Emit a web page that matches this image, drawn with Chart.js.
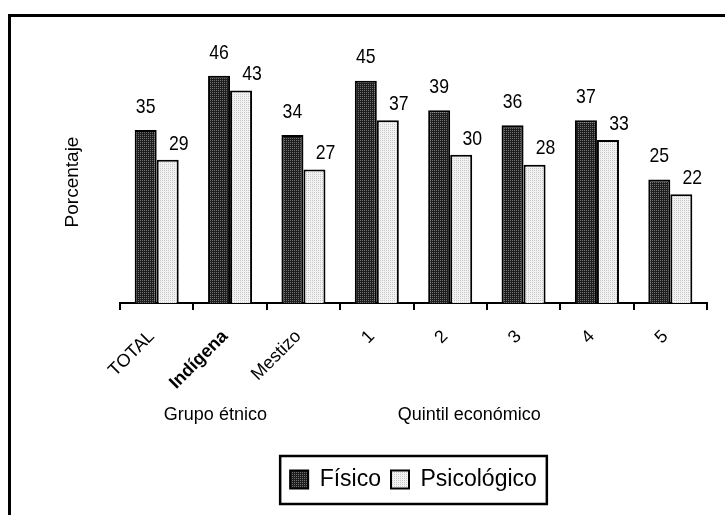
<!DOCTYPE html>
<html lang="es">
  <head>
    <meta charset="UTF-8" />
    <title>Porcentaje - Físico / Psicológico</title>
    <script src="https://cdn.jsdelivr.net/npm/chart.js"></script>
    <style>
      html, body { margin: 0; padding: 0; background: #fff; overflow: hidden; }
      .wrap { position: relative; width: 725px; height: 515px; }
      .frame {
        position: absolute; left: 8px; top: 14px; width: 800px; height: 600px;
        border: 3px solid #000; box-sizing: border-box;
      }
      canvas { position: absolute; left: 0; top: 0; }
    </style>
  </head>
  <body>
    <div class="wrap">
      <div class="frame"></div>
      <canvas id="chart" width="725" height="515"></canvas>
    </div>

    <script>
      // Datos
      const categorias = ["TOTAL", "Indígena", "Mestizo", "1", "2", "3", "4", "5"];
      const fisico = [35, 46, 34, 45, 39, 36, 37, 25];
      const psicologico = [29, 43, 27, 37, 30, 28, 33, 22];
      const grupos = [
        { texto: "Grupo étnico", pos: 0.8 },
        { texto: "Quintil económico", pos: 4.26 },
      ];

      const fuente = "'Liberation Sans', Arial, sans-serif";

      // Tramas de relleno para las barras
      function crearTrama(fondo, punto) {
        const c = document.createElement("canvas");
        c.width = 2;
        c.height = 2;
        const g = c.getContext("2d");
        g.fillStyle = fondo;
        g.fillRect(0, 0, 2, 2);
        g.fillStyle = punto;
        g.fillRect(0, 0, 1, 1);
        return g.createPattern(c, "repeat");
      }

      const ctx = document.getElementById("chart").getContext("2d");
      const tramaOscura = crearTrama("#1e1e1e", "#707070");
      const tramaClara = crearTrama("#f2f2f2", "#c8c8c8");

      // Etiquetas de valor, títulos y marco de la leyenda
      const extras = {
        id: "extras",
        afterDatasetsDraw(chart) {
          const c = chart.ctx;
          chart.data.datasets.forEach((ds, i) => {
            const meta = chart.getDatasetMeta(i);
            meta.data.forEach((bar, j) => {
              const dx = i === 0 ? 0 : 11;
              const dy = i === 0 ? 23 : 16;
              c.save();
              c.fillStyle = "#000";
              c.font = "21px " + fuente;
              c.textAlign = "center";
              c.textBaseline = "middle";
              c.translate(bar.x + dx, bar.y - dy);
              c.scale(0.84, 1);
              c.fillText(ds.data[j], 0, 0);
              c.restore();
            });
          });
        },
        afterDraw(chart) {
          const c = chart.ctx;
          const x = chart.scales.x;
          c.save();
          c.fillStyle = "#000";
          c.textBaseline = "middle";
          c.textAlign = "center";
          c.font = "18px " + fuente;
          grupos.forEach((g) => {
            c.fillText(g.texto, x.getPixelForValue(g.pos), 415);
          });
          // Título del eje Y
          c.font = "19px " + fuente;
          c.translate(73, 182);
          c.rotate(-Math.PI / 2);
          c.fillText("Porcentaje", 0, 0);
          c.restore();

          // Marco de la leyenda
          const boxes = chart.legend.legendHitBoxes;
          if (boxes && boxes.length) {
            let l = Infinity, r = -Infinity, t = Infinity, b = -Infinity;
            boxes.forEach((h) => {
              l = Math.min(l, h.left);
              r = Math.max(r, h.left + h.width);
              t = Math.min(t, h.top);
              b = Math.max(b, h.top + h.height);
            });
            c.save();
            c.strokeStyle = "#000";
            c.lineWidth = 2.5;
            c.strokeRect(l - 10, t - 12, r - l + 20, b - t + 25);
            c.restore();
          }
        },
      };

      new Chart(ctx, {
        type: "bar",
        data: {
          labels: categorias,
          datasets: [
            {
              label: "Físico",
              data: fisico,
              backgroundColor: tramaOscura,
              borderColor: "#000",
              borderWidth: 2,
            },
            {
              label: "Psicológico",
              data: psicologico,
              backgroundColor: tramaClara,
              borderColor: "#000",
              borderWidth: 2,
            },
          ],
        },
        options: {
          responsive: false,
          animation: false,
          categoryPercentage: 0.6,
          barPercentage: 1.0,
          layout: { padding: { left: 120, top: 56, right: 18, bottom: 14 } },
          plugins: {
            tooltip: { enabled: false },
            legend: {
              position: "bottom",
              fullSize: false,
              labels: {
                color: "#000",
                font: { size: 23, family: fuente },
                boxWidth: 18,
                boxHeight: 18,
                padding: 10,
              },
            },
          },
          scales: {
            y: {
              display: false,
              min: 0,
              max: 50,
            },
            x: {
              afterFit(scale) {
                scale.height = 155;
              },
              border: { display: true, color: "#000", width: 2 },
              grid: {
                display: true,
                drawOnChartArea: false,
                drawTicks: true,
                tickLength: 7,
                color: "#000",
                lineWidth: 2,
              },
              ticks: {
                color: "#000",
                minRotation: 45,
                maxRotation: 45,
                padding: 16,
                labelOffset: -5,
                font: (c) => ({
                  size: 18,
                  family: fuente,
                  weight: c.index === 1 ? "bold" : "normal",
                }),
              },
            },
          },
        },
        plugins: [extras],
      });
    </script>
  </body>
</html>
